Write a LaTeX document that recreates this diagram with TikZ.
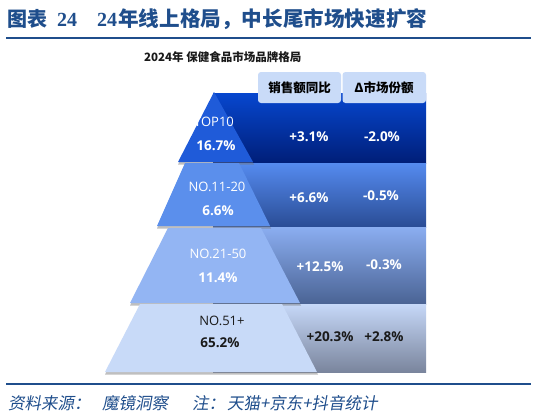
\documentclass[tikz,border=0pt]{standalone}
\usepackage{fontspec}
\setmainfont{Open Sans}
\newfontfamily\cjk{Noto Sans CJK SC}
\newfontfamily\cjkfoot[FakeSlant=0.18]{Noto Sans CJK SC}
\newfontfamily\serifnum{Liberation Serif}
\definecolor{titleblue}{HTML}{1F4E8C}
\definecolor{hdrbox}{HTML}{C9DBF8}
\definecolor{bandAt}{HTML}{0747CF}
\definecolor{bandAb}{HTML}{001E78}
\definecolor{bandBt}{HTML}{558BEF}
\definecolor{bandBb}{HTML}{2A4C95}
\definecolor{bandCt}{HTML}{8BAEF1}
\definecolor{bandCb}{HTML}{4A6394}
\definecolor{bandDt}{HTML}{C6D8F8}
\definecolor{bandDb}{HTML}{7A859D}
\definecolor{trapA}{HTML}{1F5BD9}
\definecolor{trapB}{HTML}{5B8FEC}
\definecolor{trapC}{HTML}{93B5F3}
\definecolor{trapD}{HTML}{C8DAF8}
\definecolor{darktext}{HTML}{1A1A1A}
\tikzset{
  lbl/.style={inner sep=0pt, font=\fontsize{13}{14}\selectfont},
  pct/.style={inner sep=0pt, font=\fontsize{13.5}{14}\selectfont\bfseries},
  hdrtext/.style={inner sep=0pt, font=\cjk\fontsize{12.5}{14}\selectfont\bfseries, text=black},
  hdrbg/.style={fill=hdrbox, rounded corners=3pt},
  trapshadow/.style={fill=black!55, opacity=0.45},
  foottext/.style={anchor=west, inner sep=0pt, text=titleblue, font=\cjkfoot\fontsize{16.5}{17}\selectfont},
}
\begin{document}
\begin{tikzpicture}[x=1pt,y=-1pt]
\useasboundingbox[fill=white] (0,0) rectangle (537,418);
% title
\node[anchor=west, inner sep=0pt, text=titleblue, font=\cjk\fontsize{20}{20}\selectfont\bfseries] (t1) at (7,19) {图表};
\node[anchor=west, inner sep=0pt, text=titleblue, font=\serifnum\fontsize{20}{20}\selectfont\bfseries] (t2) at (57,19.5) {24};
\node[anchor=west, inner sep=0pt, text=titleblue, font=\serifnum\fontsize{20}{20}\selectfont\bfseries] (t3) at (97,19.5) {24};
\node[anchor=west, inner sep=0pt, text=titleblue, font=\cjk\fontsize{20.6}{21}\selectfont\bfseries] (t4) at (118,19) {年线上格局，中长尾市场快速扩容};
\draw[titleblue, line width=2pt] (6,38) coordinate (r1a) -- (531,38) coordinate (r1b);
% subtitle
\node[anchor=west, inner sep=0pt, font=\cjk\fontsize{11.5}{12}\selectfont\bfseries, text=darktext] (sub) at (144,57) {2024年 保健食品市场品牌格局};
% bands
\shade[top color=bandAt, bottom color=bandAb] (213,93) rectangle (426,163);
\shade[top color=bandBt, bottom color=bandBb] (213,163) rectangle (426,227);
\shade[top color=bandCt, bottom color=bandCb] (213,227) rectangle (426,304);
\shade[top color=bandDt, bottom color=bandDb] (213,304) rectangle (426,372);
% header boxes
\fill[hdrbg] (258,72) rectangle (341,103);
\fill[hdrbg] (342.5,72) rectangle (426,103);
\node[hdrtext] (h1) at (299.5,88) {销售额同比};
\node[hdrtext] (h2) at (384,88) {Δ市场份额};
% trapezoid shadows
\fill[trapshadow] (214,94) -- (254,164.5) -- (178,164.5) -- cycle;
\fill[trapshadow] (185,165) -- (239,165) -- (271,228.5) -- (157,228.5) -- cycle;
\fill[trapshadow] (168,230) -- (261,230) -- (301,305.5) -- (130,305.5) -- cycle;
\fill[trapshadow] (140,306) -- (282,306) -- (318,374.5) -- (105,374.5) -- cycle;
% trapezoids
\fill[trapA] (214,92) -- (253,162) -- (178,162) -- cycle;
\fill[trapB] (185,163) -- (239,163) -- (270,226) -- (157,226) -- cycle;
\fill[trapC] (168,228) -- (261,228) -- (300,303) -- (130,303) -- cycle;
\fill[trapD] (140,304) -- (282,304) -- (317,372) -- (105,372) -- cycle;
% trapezoid labels
\node[lbl, text=white] (l1) at (214,122) {TOP10};
\node[pct, text=white] (p1) at (216,146) {16.7\%};
\node[lbl, text=white] (l2) at (217,187) {NO.11-20};
\node[pct, text=white] (p2) at (218,211) {6.6\%};
\node[lbl, text=white] (l3) at (218,254) {NO.21-50};
\node[pct, text=white] (p3) at (218,278) {11.4\%};
\node[lbl, text=darktext] (l4) at (222,321) {NO.51+};
\node[pct, text=darktext] (p4) at (220,343) {65.2\%};
% values
\node[pct, text=white] (v1a) at (309,137) {+3.1\%};
\node[pct, text=white] (v1b) at (382,137) {-2.0\%};
\node[pct, text=white] (v2a) at (309,198) {+6.6\%};
\node[pct, text=white] (v2b) at (381,196) {-0.5\%};
\node[pct, text=white] (v3a) at (320,267) {+12.5\%};
\node[pct, text=white] (v3b) at (384,265) {-0.3\%};
\node[pct, text=darktext] (v4a) at (330,337) {+20.3\%};
\node[pct, text=darktext] (v4b) at (384,337) {+2.8\%};
% footer
\draw[titleblue, line width=1.5pt] (6,384) coordinate (r2a) -- (531,384) coordinate (r2b);
\node[foottext] (f1) at (8,403) {资料来源：};
\node[foottext] (f2) at (102,403) {魔镜洞察};
\node[foottext] (f3) at (192,403) {注：};
\node[foottext] (f4) at (227,403) {天猫+京东+抖音统计};
\end{tikzpicture}
\end{document}
